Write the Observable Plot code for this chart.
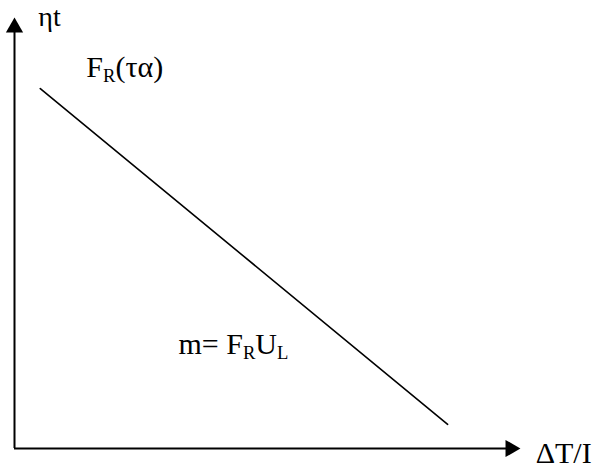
<!DOCTYPE html>
<html>
<head>
<meta charset="utf-8">
<script src="https://cdn.jsdelivr.net/npm/d3@7"></script>
<script src="https://cdn.jsdelivr.net/npm/@observablehq/plot@0.6"></script>
<style>
  html, body { margin: 0; padding: 0; background: #fff; }
  #chart svg { display: block; }
</style>
</head>
<body>
<div id="chart"></div>
<script>
// Efficiency line of a flat-plate collector: ηt against ΔT/I (normalised units)
const lineX = [0.051, 0.856];
const lineY = [0.835, 0.056];

// Axis extents (arrow tips)
const axisX = [0, 1];
const axisY = [0, 1];

// Annotations; "_X" marks a subscript letter
const labelText = ["ηt", "F_R(τα)", "m= F_RU_L", "ΔT/I"];
const labelX = [0.047, 0.142, 0.324, 1.03];
const labelY = [0.981, 0.863, 0.220, -0.0325];
const labelSize = [28, 30, 30, 30];

const lineData = lineX.map((x, i) => ({x, y: lineY[i]}));
const labels = labelText.map((t, i) => ({t, x: labelX[i], y: labelY[i], s: labelSize[i]}));

const font = "'Liberation Serif', 'Times New Roman', serif";

const chart = Plot.plot({
  width: 593,
  height: 471,
  marginLeft: 14,
  marginRight: 73,
  marginTop: 17,
  marginBottom: 23,
  x: {domain: axisX, axis: null},
  y: {domain: axisY, axis: null},
  style: {fontFamily: font, background: "#fff", overflow: "visible"},
  marks: [
    // axes
    Plot.ruleX([axisX[0]], {y1: axisY[0], y2: axisY[1] - 0.02, stroke: "#000", strokeWidth: 2}),
    Plot.ruleY([axisY[0]], {x1: axisX[0], x2: axisX[1] - 0.02, stroke: "#000", strokeWidth: 2}),
    // filled arrowheads
    Plot.dot([{x: axisX[0], y: axisY[1]}], {x: "x", y: "y", symbol: "triangle", r: 6.4, fill: "#000", stroke: null, dy: 10}),
    Plot.dot([{x: axisX[1], y: axisY[0]}], {x: "x", y: "y", symbol: "triangle", r: 6.4, fill: "#000", stroke: null, rotate: 90, dx: -10}),
    // efficiency line
    Plot.line(lineData, {x: "x", y: "y", stroke: "#000", strokeWidth: 1.6}),
    // labels
    Plot.text(labels, {x: "x", y: "y", text: "t", fontSize: "s", textAnchor: "start", lineAnchor: "bottom", fontFamily: font, fill: "#000"})
  ]
});

// turn "_X" runs into subscripts
d3.select(chart).selectAll("text").each(function () {
  const el = d3.select(this);
  const raw = this.textContent;
  if (!raw.includes("_")) return;
  el.text("");
  const parts = raw.split(/(_[A-Z])/);
  let sub = false;
  for (const p of parts) {
    if (!p) continue;
    if (p.startsWith("_")) {
      el.append("tspan").attr("font-size", "0.62em").attr("dy", sub ? 0 : 5).text(p.slice(1));
      sub = true;
    } else {
      el.append("tspan").attr("dy", sub ? -5 : 0).text(p);
      sub = false;
    }
  }
});

document.getElementById("chart").appendChild(chart);
</script>
</body>
</html>
